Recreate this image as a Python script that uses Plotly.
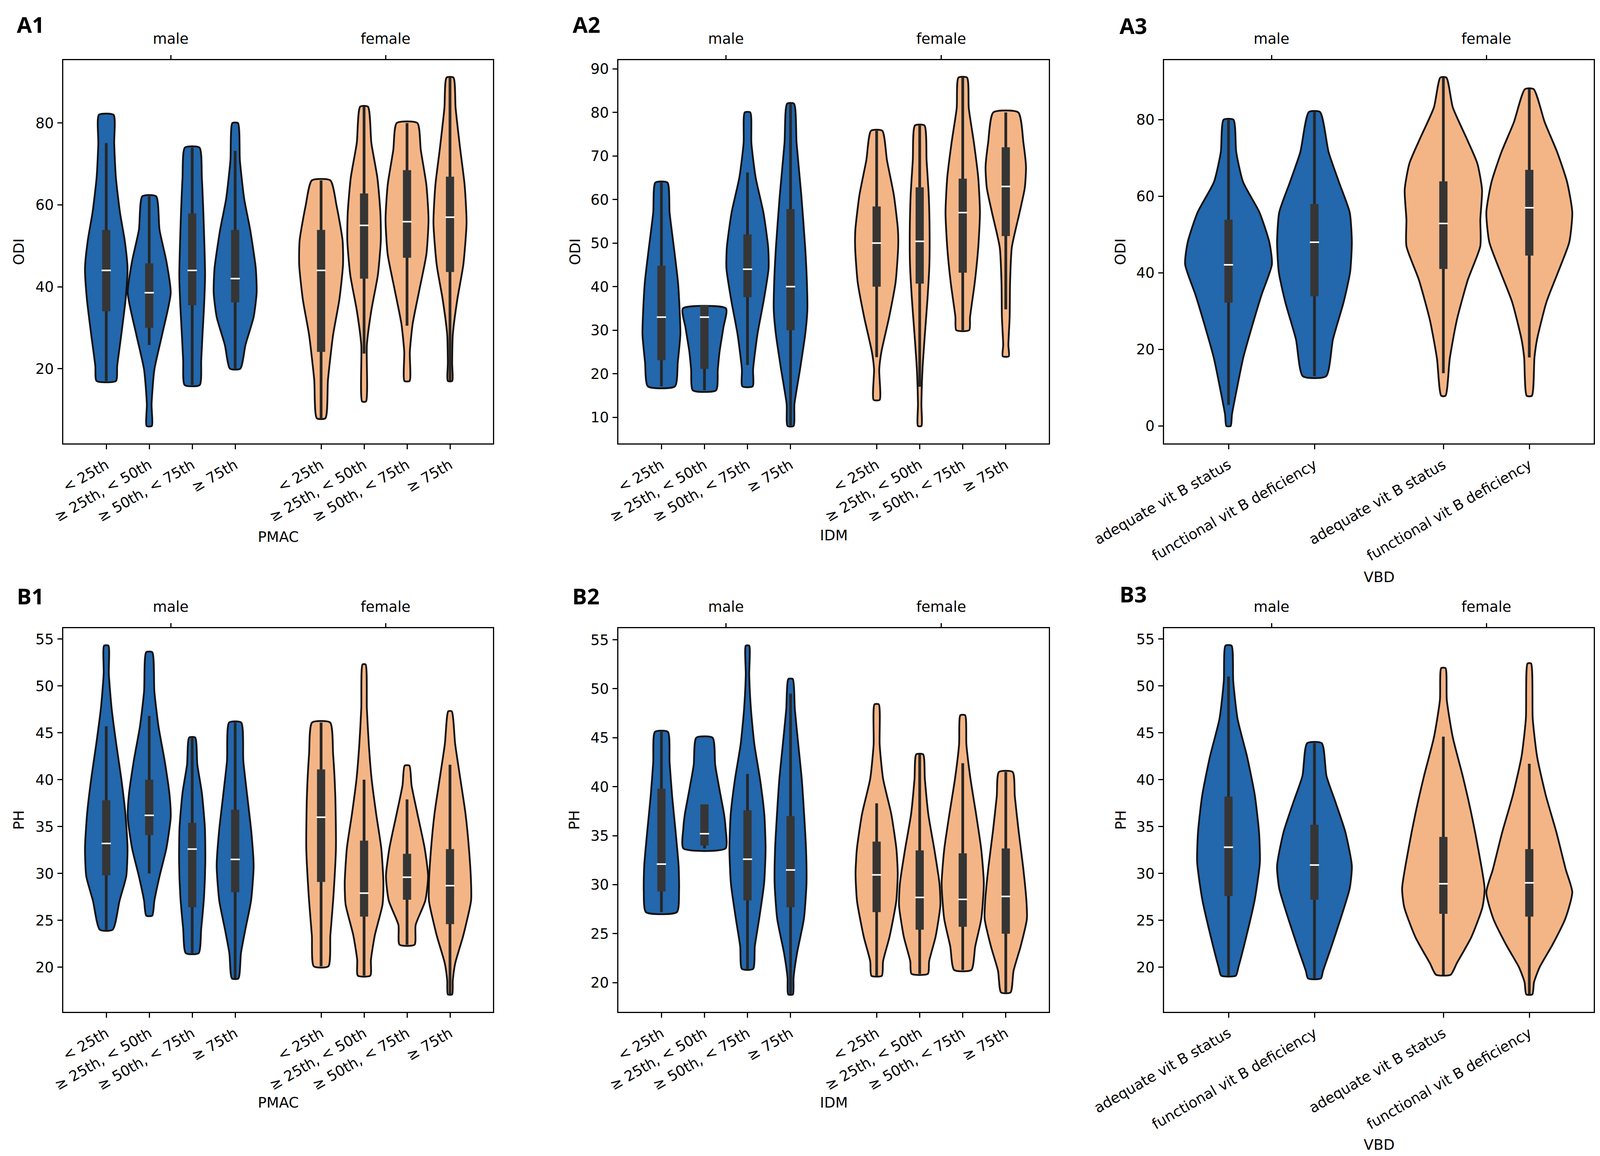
import plotly.graph_objects as go

FIG_W, FIG_H = 4098, 2959

PCT_CATS = ["< 25th", "≥ 25th, < 50th", "≥ 50th, < 75th", "≥ 75th"]
VBD_CATS = ["adequate vit B status", "functional vit B deficiency"]
SEXES = ["male", "female"]

# violin outlines, male groups first then female: y levels (min .. max) and relative widths
odi_pmac_y = [
    [17, 20.7, 28.3, 36.9, 44.5, 51.3, 58.1, 66.6, 75, 82],
    [6, 11.3, 19.8, 28.3, 38.5, 46.2, 53.9, 62.1],
    [16, 22, 28.3, 35, 42.8, 50, 58.1, 66.6, 74],
    [20, 25.8, 32.6, 38.6, 44.5, 53.9, 61.5, 70.9, 80],
    [7.9, 17.3, 28.3, 36.9, 45.4, 51.3, 59.8, 66],
    [12, 25.8, 34.3, 42.8, 51.3, 58.1, 66.6, 75.1, 84],
    [17, 24.1, 30.9, 39.4, 47.9, 56.4, 64.9, 73.4, 80],
    [17, 21.5, 28.3, 36.9, 45.4, 55.6, 64.9, 73.4, 83.7, 91.1],
]
odi_pmac_w = [
    [0.45, 0.51, 0.70, 0.90, 0.99, 0.86, 0.64, 0.45, 0.37, 0.34],
    [0.12, 0.11, 0.24, 0.60, 1.0, 0.80, 0.48, 0.32],
    [0.35, 0.42, 0.48, 0.55, 0.60, 0.57, 0.52, 0.45, 0.34],
    [0.24, 0.48, 0.86, 1.0, 0.96, 0.70, 0.42, 0.22, 0.13],
    [0.2, 0.32, 0.56, 0.85, 1.02, 1.0, 0.72, 0.43],
    [0.09, 0.13, 0.34, 0.64, 0.78, 0.76, 0.62, 0.34, 0.18],
    [0.12, 0.13, 0.26, 0.58, 0.9, 1.0, 0.9, 0.64, 0.48],
    [0.1, 0.1, 0.13, 0.34, 0.62, 0.77, 0.68, 0.48, 0.26, 0.16],
]
# inner box: lower whisker, q1, median, q3, upper whisker
odi_pmac_box = [
    [17, 34.0, 44.0, 53.9, 75.1],
    [25.8, 30.0, 38.55, 45.7, 62.1],
    [16, 35.5, 44.0, 57.9, 74],
    [20, 36.2, 42.0, 53.9, 73.2],
    [7.9, 24.1, 44.0, 53.9, 66],
    [23.7, 42.0, 55.0, 62.8, 84],
    [30.5, 47.1, 55.9, 68.5, 80],
    [17, 43.6, 57.0, 66.9, 91.1],
]

odi_idm_y = [
    [17.1, 22.6, 29, 33, 41, 49, 57, 63.9],
    [16.2, 21, 25, 30.6, 35.0],
    [17.1, 21, 29, 37, 44.2, 49, 57, 65, 73, 80],
    [8, 13, 21, 29, 34.6, 41, 49, 61, 73, 82],
    [14, 21, 25, 33, 41, 49, 53, 61, 69, 75.8],
    [8, 13, 21, 29, 37, 45, 53, 61, 69, 77],
    [30, 33, 41, 49, 57, 65, 73, 81, 88],
    [24, 26.6, 33, 41, 49, 57, 62.6, 67.4, 73, 80],
]
odi_idm_w = [
    [0.63, 0.76, 0.88, 0.86, 0.77, 0.58, 0.38, 0.28],
    [0.54, 0.62, 0.70, 0.88, 1.0],
    [0.24, 0.26, 0.46, 0.76, 0.98, 0.96, 0.74, 0.38, 0.18, 0.13],
    [0.14, 0.18, 0.44, 0.68, 0.78, 0.76, 0.68, 0.5, 0.28, 0.16],
    [0.14, 0.12, 0.22, 0.58, 0.88, 1.0, 0.99, 0.8, 0.48, 0.26],
    [0.08, 0.08, 0.13, 0.24, 0.36, 0.45, 0.46, 0.42, 0.32, 0.22],
    [0.3, 0.34, 0.56, 0.72, 0.8, 0.72, 0.52, 0.28, 0.2],
    [0.14, 0.12, 0.18, 0.2, 0.28, 0.64, 0.88, 0.94, 0.82, 0.58],
]
odi_idm_box = [
    [17.1, 23.1, 33.0, 44.8, 63.9],
    [16.2, 21.1, 33.0, 35.7, 35.7],
    [22.0, 37.6, 44.0, 52.0, 66.2],
    [8, 30.0, 40.0, 57.8, 82],
    [23.8, 40.0, 50.0, 58.4, 75.8],
    [17.0, 40.7, 50.4, 62.8, 77],
    [30, 43.2, 57.0, 64.8, 88],
    [34.8, 51.6, 63.0, 72.0, 80],
]

odi_vbd_y = [
    [0, 3, 8.9, 17.7, 26.5, 34.3, 42.2, 48, 55.8, 63.7, 71.5, 80],
    [13, 22.6, 32.4, 40.2, 48, 55.8, 63.7, 71.5, 82],
    [7.9, 17.7, 27.5, 38.2, 47, 53.9, 61.7, 68.6, 75.4, 83.2, 91],
    [7.9, 17.9, 22.6, 32.4, 40.2, 48, 55.8, 63.7, 71.5, 79.3, 88],
]
odi_vbd_w = [
    [0.05, 0.08, 0.18, 0.34, 0.56, 0.77, 1.01, 0.95, 0.72, 0.34, 0.18, 0.115],
    [0.27, 0.43, 0.68, 0.83, 0.87, 0.82, 0.57, 0.33, 0.13],
    [0.05, 0.15, 0.31, 0.57, 0.86, 0.86, 0.9, 0.79, 0.53, 0.22, 0.07],
    [0.06, 0.12, 0.18, 0.4, 0.67, 0.93, 1.0, 0.88, 0.65, 0.36, 0.1],
]
odi_vbd_box = [
    [5.5, 32.2, 42.1, 53.9, 80],
    [13, 33.9, 48.0, 58.0, 82],
    [13.8, 41.0, 52.9, 63.9, 91],
    [17.9, 44.5, 57.0, 66.9, 88],
]

ph_pmac_y = [
    [24, 27.1, 29.7, 32.7, 36.4, 40.1, 43.9, 47.6, 51.3, 54.3],
    [25.5, 27.1, 29.7, 32.7, 36, 38.3, 42, 45.7, 49.4, 53.6],
    [21.5, 24.1, 27.5, 31.2, 34.9, 38.6, 41.6, 44.5],
    [18.8, 21.5, 24.1, 27.1, 30.8, 34.5, 38.3, 42, 46.1],
    [20.1, 23.4, 27.1, 32.7, 38.3, 42.7, 46.1],
    [19.1, 20.8, 23.4, 26.7, 29.0, 32.7, 36.4, 40.1, 43.8, 47.6, 52.3],
    [22.4, 24.5, 27.1, 29.7, 32.7, 36.4, 39.4, 41.5],
    [17.1, 18.6, 20.4, 23.4, 27.1, 29.0, 32.7, 36.4, 40.1, 43.8, 47.3],
]
ph_pmac_w = [
    [0.3, 0.62, 0.93, 0.99, 0.89, 0.7, 0.46, 0.25, 0.12, 0.1],
    [0.14, 0.24, 0.48, 0.8, 1.0, 0.95, 0.72, 0.43, 0.24, 0.14],
    [0.3, 0.42, 0.55, 0.61, 0.59, 0.45, 0.24, 0.14],
    [0.15, 0.27, 0.48, 0.74, 0.86, 0.75, 0.56, 0.38, 0.28],
    [0.34, 0.43, 0.56, 0.69, 0.66, 0.56, 0.42],
    [0.29, 0.32, 0.5, 0.86, 0.9, 0.8, 0.56, 0.35, 0.22, 0.13, 0.07],
    [0.35, 0.4, 0.85, 0.98, 0.82, 0.48, 0.21, 0.11],
    [0.1, 0.13, 0.24, 0.62, 0.98, 0.98, 0.88, 0.72, 0.48, 0.24, 0.08],
]
ph_pmac_box = [
    [24, 29.8, 33.2, 37.8, 45.7],
    [30.0, 34.1, 36.2, 40.0, 46.8],
    [21.5, 26.4, 32.6, 35.4, 44.5],
    [18.8, 28.0, 31.5, 36.8, 46.1],
    [20.1, 29.1, 36.0, 41.1, 46.1],
    [19.1, 25.4, 27.9, 33.5, 40.0],
    [22.4, 27.2, 29.6, 32.1, 37.9],
    [17.1, 24.6, 28.7, 32.6, 41.6],
]

ph_idm_y = [
    [27.2, 29.4, 31.9, 35.4, 39.0, 42.5, 45.6],
    [33.7, 35.8, 37.2, 39.7, 42.2, 45.0],
    [21.4, 23.7, 26.5, 30.1, 33.6, 37.2, 40.8, 44.3, 47.9, 51.4, 54.4],
    [18.8, 20.5, 23.0, 26.5, 30.1, 33.6, 37.2, 40.8, 44.3, 47.9, 51.0],
    [20.7, 22.2, 24.7, 28.3, 31.1, 33.6, 37.2, 40.8, 44.3, 48.4],
    [20.9, 22.2, 24.7, 27.9, 30.1, 33.6, 37.2, 40.8, 43.3],
    [21.3, 23.7, 26.5, 30.1, 33.6, 37.2, 40.8, 44.3, 47.3],
    [19.0, 21.2, 23.7, 26.5, 28.3, 31.9, 35.4, 39.0, 41.5],
]
ph_idm_w = [
    [0.72, 0.82, 0.8, 0.66, 0.5, 0.38, 0.3],
    [0.98, 0.98, 0.91, 0.7, 0.5, 0.38],
    [0.26, 0.34, 0.54, 0.77, 0.84, 0.78, 0.58, 0.32, 0.16, 0.08, 0.08],
    [0.11, 0.14, 0.3, 0.62, 0.74, 0.72, 0.63, 0.52, 0.36, 0.2, 0.1],
    [0.24, 0.3, 0.6, 0.91, 0.98, 0.92, 0.68, 0.3, 0.14, 0.1],
    [0.38, 0.44, 0.74, 0.96, 0.92, 0.68, 0.4, 0.24, 0.16],
    [0.4, 0.58, 0.86, 0.98, 0.86, 0.62, 0.36, 0.17, 0.11],
    [0.22, 0.36, 0.69, 0.98, 0.96, 0.8, 0.6, 0.42, 0.32],
]
ph_idm_box = [
    [27.2, 29.3, 32.1, 39.8, 45.6],
    [33.7, 34.0, 35.2, 38.2, 38.2],
    [21.4, 28.4, 32.6, 37.6, 41.3],
    [18.8, 27.7, 31.5, 37.0, 49.5],
    [20.7, 27.2, 31.0, 34.4, 38.3],
    [20.9, 25.4, 28.7, 33.5, 43.3],
    [21.3, 25.7, 28.5, 33.2, 42.4],
    [19.0, 25.0, 28.8, 33.7, 41.5],
]

ph_vbd_y = [
    [19.1, 20.0, 23.2, 27.2, 31.2, 34.4, 38.4, 42.5, 46.5, 50.5, 54.3],
    [18.8, 19.6, 22.0, 25.2, 28.4, 30.8, 34.4, 37.6, 40.4, 43.9],
    [19.2, 20.4, 23.2, 26.4, 28.4, 32.4, 36.4, 40.4, 44.5, 48.5, 51.9],
    [17.1, 18.4, 20.0, 22.4, 25.2, 28.0, 30.4, 34.4, 38.4, 42.5, 46.5, 52.4],
]
ph_vbd_w = [
    [0.17, 0.23, 0.41, 0.61, 0.73, 0.71, 0.61, 0.43, 0.21, 0.11, 0.07],
    [0.15, 0.2, 0.38, 0.61, 0.82, 0.87, 0.72, 0.49, 0.28, 0.17],
    [0.17, 0.31, 0.65, 0.91, 0.96, 0.82, 0.65, 0.45, 0.22, 0.08, 0.05],
    [0.07, 0.11, 0.24, 0.54, 0.84, 1.0, 0.85, 0.63, 0.38, 0.18, 0.08, 0.04],
]
ph_vbd_box = [
    [19.1, 27.6, 32.8, 38.2, 51.0],
    [18.8, 27.2, 30.9, 35.2, 43.9],
    [19.2, 25.7, 28.9, 33.9, 44.6],
    [17.1, 25.4, 29.0, 32.6, 41.7],
]

SEX_COLORS = {"male": "#2367ac", "female": "#f4b586"}
EDGE = "#111111"
BOX = "#353535"
WHISKER = "#262626"
FONT = "DejaVu Sans"
FS = 37

# panel frames in pixels (left, right) / (top, bottom)
col_px = [(154, 1254), (1575, 2677), (2972, 4072)]
row_px = [(146, 1127), (1600, 2582)]

panels = [
    ("A1", PCT_CATS, odi_pmac_y, odi_pmac_w, odi_pmac_box, "ODI", "PMAC", 20),
    ("A2", PCT_CATS, odi_idm_y, odi_idm_w, odi_idm_box, "ODI", "IDM", 10),
    ("A3", VBD_CATS, odi_vbd_y, odi_vbd_w, odi_vbd_box, "ODI", "VBD", 20),
    ("B1", PCT_CATS, ph_pmac_y, ph_pmac_w, ph_pmac_box, "PH", "PMAC", 5),
    ("B2", PCT_CATS, ph_idm_y, ph_idm_w, ph_idm_box, "PH", "IDM", 5),
    ("B3", VBD_CATS, ph_vbd_y, ph_vbd_w, ph_vbd_box, "PH", "VBD", 5),
]
xtitle_py = [1366, 1362, 1469, 2814, 2814, 2922]
ytitle_px = [40, 1464, 2860, 40, 1462, 2861]
label_px = [(33, 54), (1456, 54), (2856, 57), (33, 1517), (1455, 1517), (2856, 1512)]

fig = go.Figure()
annotations = []

for k, (lab, cats, ys, ws, boxes, ytitle, xtitle, dtick) in enumerate(panels):
    n = len(cats)
    dodge = 0.8 / n
    xa, ya, xt = "x%d" % (k + 1), "y%d" % (k + 1), "x%d" % (k + 7)
    ticks, ticktext = [], []
    for g, sex in enumerate(SEXES):
        for h, cat in enumerate(cats):
            i = g * n + h
            c = g + (h - (n - 1) / 2) * dodge
            ticks.append(c)
            ticktext.append(cat)
            yv, wv = ys[i], ws[i]
            left = [c - w * dodge / 2 for w in wv]
            right = [c + w * dodge / 2 for w in wv]
            fig.add_trace(go.Scatter(
                x=left + right[::-1] + [left[0]], y=yv + yv[::-1] + [yv[0]],
                mode="lines", fill="toself", fillcolor=SEX_COLORS[sex],
                line=dict(color=EDGE, width=4.5, shape="spline", smoothing=0.6),
                xaxis=xa, yaxis=ya, hoverinfo="skip"))
            lo, q1, med, q3, hi = boxes[i]
            fig.add_trace(go.Scatter(x=[c, c], y=[lo, hi], mode="lines",
                                     line=dict(color=WHISKER, width=7),
                                     xaxis=xa, yaxis=ya, hoverinfo="skip"))
            fig.add_trace(go.Scatter(x=[c, c], y=[q1, q3], mode="lines",
                                     line=dict(color=BOX, width=21),
                                     xaxis=xa, yaxis=ya, hoverinfo="skip"))
            fig.add_trace(go.Scatter(x=[c], y=[med], mode="markers",
                                     marker=dict(symbol="line-ew", size=17,
                                                 line=dict(color="white", width=4)),
                                     xaxis=xa, yaxis=ya, hoverinfo="skip"))
    all_y = [v for yv in ys for v in yv]
    ymin, ymax = min(all_y), max(all_y)
    pad = (ymax - ymin) * 0.05
    # carrier for the top (sex) axis
    fig.add_trace(go.Scatter(x=[0, 1], y=[ymin, ymin], mode="markers",
                             marker=dict(opacity=0), xaxis=xt, yaxis=ya,
                             hoverinfo="skip"))

    (x0, x1), (t0, t1) = col_px[k % 3], row_px[k // 3]
    dom_x = [x0 / FIG_W, x1 / FIG_W]
    dom_y = [1 - t1 / FIG_H, 1 - t0 / FIG_H]
    axis_common = dict(showgrid=False, zeroline=False, automargin=False,
                       ticks="outside", ticklen=12, tickwidth=2.5, tickcolor="black",
                       tickfont=dict(family=FONT, size=FS, color="black"))
    fig.layout["xaxis%d" % (k + 1)] = dict(
        domain=dom_x, anchor=ya, range=[-0.5, 1.5], tickmode="array",
        tickvals=ticks, ticktext=ticktext, tickangle=-30,
        showline=True, mirror=True, linecolor="black", linewidth=2.5,
        ticklabelstandoff=5, **axis_common)
    fig.layout["xaxis%d" % (k + 7)] = dict(
        overlaying=xa, anchor=ya, side="top", range=[-0.5, 1.5], tickmode="array",
        tickvals=[0, 1], ticktext=SEXES, showline=False, ticklabelstandoff=14,
        **axis_common)
    fig.layout["yaxis%d" % (k + 1)] = dict(
        domain=dom_y, anchor=xa, range=[ymin - pad, ymax + pad], dtick=dtick,
        showline=True, mirror=True, linecolor="black", linewidth=2.5,
        ticklabelstandoff=2, **axis_common)

    annotations.append(dict(text=xtitle, x=(x0 + x1) / 2 / FIG_W, y=1 - xtitle_py[k] / FIG_H,
                            xref="paper", yref="paper", showarrow=False,
                            xanchor="center", yanchor="middle",
                            font=dict(family=FONT, size=FS, color="black")))
    annotations.append(dict(text=ytitle, x=ytitle_px[k] / FIG_W, y=sum(dom_y) / 2,
                            xref="paper", yref="paper", showarrow=False, textangle=-90,
                            xanchor="center", yanchor="middle",
                            font=dict(family=FONT, size=FS, color="black")))
    lx, ly = label_px[k]
    annotations.append(dict(text="<b>%s</b>" % lab, x=lx / FIG_W, y=1 - ly / FIG_H,
                            xref="paper", yref="paper", showarrow=False,
                            xanchor="left", yanchor="middle",
                            font=dict(family="Open Sans", size=56, color="black")))

fig.update_layout(
    template="none",
    width=FIG_W, height=FIG_H,
    margin=dict(l=0, r=0, t=0, b=0, pad=0),
    paper_bgcolor="white", plot_bgcolor="white",
    showlegend=False,
    font=dict(family=FONT, size=FS, color="black"),
    annotations=annotations,
)

fig.write_html("out.html")
